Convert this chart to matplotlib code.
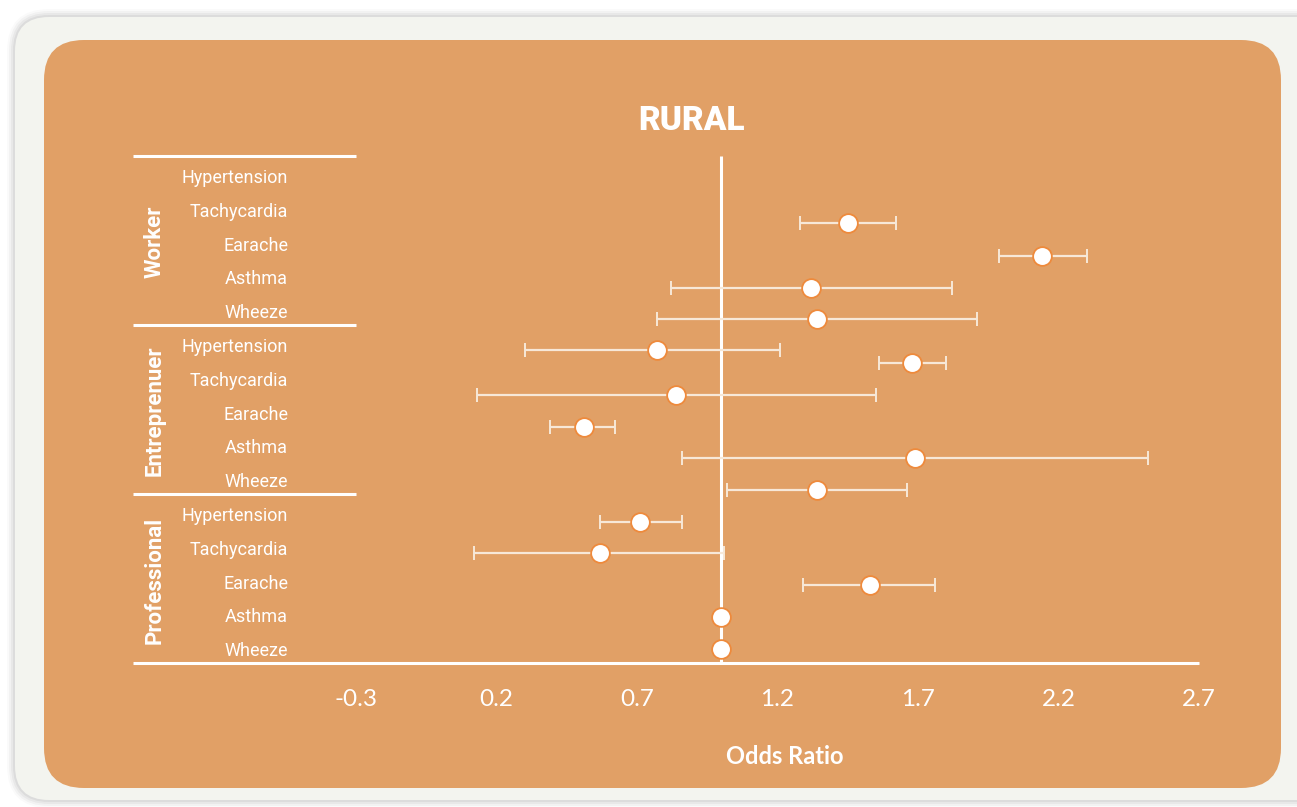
import numpy as np
import matplotlib.pyplot as plt
from matplotlib.patches import FancyBboxPatch

# groups and outcomes, listed top to bottom
groups = ["Worker", "Entreprenuer", "Professional"]
outcomes = ["Hypertension", "Tachycardia", "Earache", "Asthma", "Wheeze"]

# odds ratio estimates with 95% CI
odds = [1.45, 2.14, 1.32, 1.34, 0.77, 1.68, 0.84, 0.51, 1.69, 1.34, 0.71, 0.57, 1.53, 1.00, 1.00]
ci_low = [1.28, 1.99, 0.82, 0.77, 0.30, 1.56, 0.13, 0.39, 0.86, 1.02, 0.57, 0.12, 1.29, 1.00, 1.00]
ci_high = [1.62, 2.30, 1.82, 1.91, 1.21, 1.80, 1.55, 0.62, 2.52, 1.66, 0.86, 1.01, 1.76, 1.00, 1.00]
# vertical position of each estimate, in label rows
est_row = [1.48, 2.46, 3.40, 4.32, 5.24, 5.62, 6.57, 7.51, 8.43, 9.38, 10.33, 11.24, 12.19, 13.14, 14.08]

xticks = [-0.3, 0.2, 0.7, 1.2, 1.7, 2.2, 2.7]

ORANGE = "#e1a066"
PANEL = "#f3f4ef"
EDGE = "#ee8a3c"
BAR = "#f7e8d8"
WHITE = "white"

W, H = 1297, 807
fig = plt.figure(figsize=(W / 100, H / 100), dpi=100, facecolor="white")

# background panels, drawn in pixel units
bg = fig.add_axes([0, 0, 1, 1])
bg.set_xlim(0, W)
bg.set_ylim(H, 0)
bg.axis("off")
for i, a in enumerate([0.02, 0.03, 0.04, 0.05]):
    off = 8 - 2 * i
    bg.add_patch(FancyBboxPatch((15 - off, 17 - off), W + 40, 783 + 2 * off,
                                boxstyle="round,pad=0,rounding_size=%d" % (34 + off),
                                fc="black", ec="none", alpha=a))
bg.add_patch(FancyBboxPatch((15, 17), W + 40, 783, boxstyle="round,pad=0,rounding_size=34",
                            fc=PANEL, ec="none"))
bg.add_patch(FancyBboxPatch((44, 40), 1237, 748, boxstyle="round,pad=0,rounding_size=40",
                            fc=ORANGE, ec="none"))

# forest plot
x0 = -0.3 - 223 / 281
ax = fig.add_axes([133 / W, (H - 663) / H, 1066 / W, 513.8 / H])
ax.set_facecolor("none")
ax.set_xlim(x0, 2.7)
ax.set_ylim(14.5, -0.7)
for s in ax.spines.values():
    s.set_visible(False)
ax.set_yticks([])
ax.set_xticks(xticks)
ax.set_xticklabels(["%.1f" % t for t in xticks], family="Lato", fontsize=17.5, color=WHITE)
ax.tick_params(axis="x", length=0, pad=18.5)

# reference line at OR = 1
ax.vlines(1.0, -0.5, 14.5, color=WHITE, lw=2.2, zorder=2)

# group separators and bottom axis line
ax.hlines([-0.5, 4.5, 9.5], x0, -0.3, color=WHITE, lw=2.2, clip_on=False)
ax.hlines(14.5, x0, 2.7, color=WHITE, lw=2.2, clip_on=False)

odds = np.array(odds)
err = [odds - np.array(ci_low), np.array(ci_high) - odds]
ax.errorbar(odds, est_row, xerr=err, fmt="none", ecolor=BAR, elinewidth=1.6,
            capsize=5, capthick=1.4, zorder=3)
ax.plot(odds, est_row, "o", ms=13.5, mfc=WHITE, mec=EDGE, mew=1.3, zorder=4, clip_on=False)

# row and group labels
for g, grp in enumerate(groups):
    for k, name in enumerate(outcomes):
        ax.text(0.1455, g * 5 + k + 0.15, name, transform=ax.get_yaxis_transform(),
                ha="right", va="center", family="Roboto", fontsize=13, color=WHITE)
    ax.text(0.0205, g * 5 + 2.05, grp, transform=ax.get_yaxis_transform(), rotation=90,
            ha="center", va="center", family="Roboto", fontweight="bold",
            fontsize=16, color=WHITE)

fig.text(691 / W, 1 - 121 / H, "RURAL", ha="center", va="center", family="Roboto",
         fontweight="black", fontsize=24, color=WHITE)
fig.text(785 / W, 1 - 756 / H, "Odds Ratio", ha="center", va="center", family="Lato",
         fontweight="bold", fontsize=17, color=WHITE)

fig.savefig("out.png", dpi=100, facecolor=fig.get_facecolor())
